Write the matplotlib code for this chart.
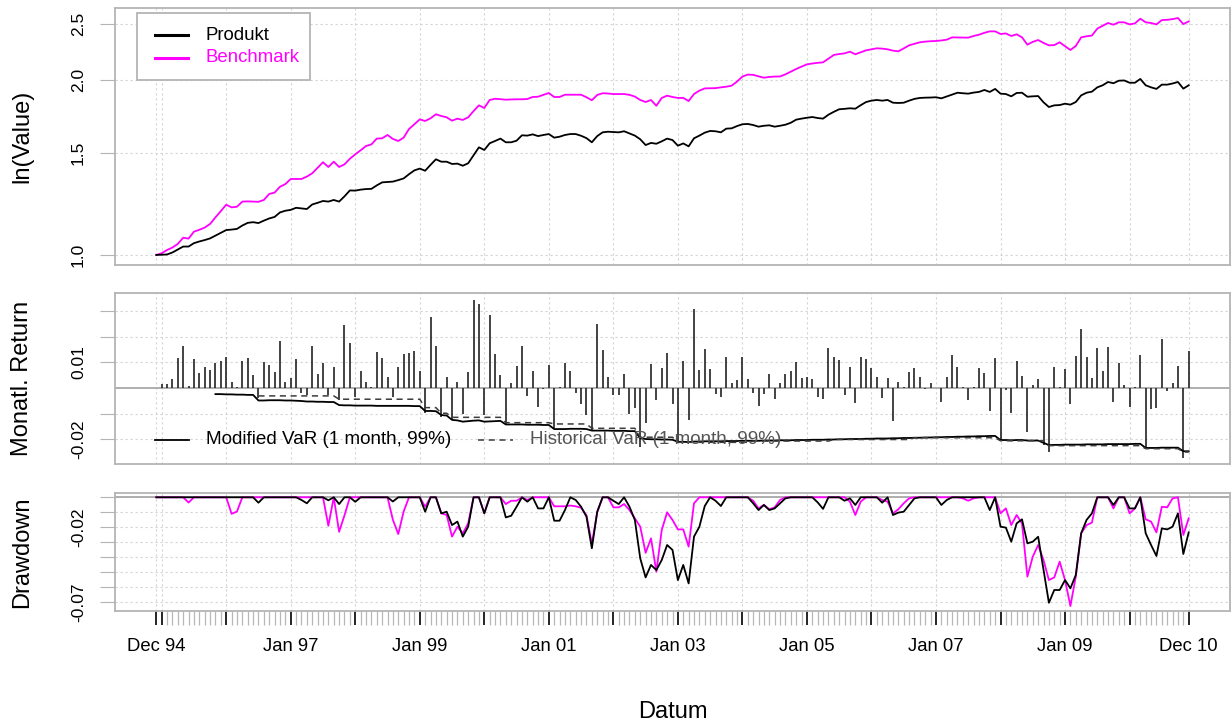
import numpy as np
import pandas as pd
import matplotlib
matplotlib.use("Agg")
import matplotlib.pyplot as plt
from matplotlib.lines import Line2D
from matplotlib.patches import Rectangle
from matplotlib.ticker import NullLocator

plt.rcParams['font.family'] = ['Liberation Sans', 'DejaVu Sans']

# Monatsdaten Dez 1994 .. Dez 2010
months = pd.date_range("1994-12-01", "2010-12-01", freq="MS")

# kumulierter Wert
produkt = [
    1.000, 1.001, 1.002, 1.010, 1.022, 1.034, 1.034, 1.048, 1.055, 1.061,
    1.068, 1.080, 1.092, 1.104, 1.106, 1.109, 1.124, 1.136, 1.139, 1.135,
    1.146, 1.156, 1.163, 1.184, 1.192, 1.196, 1.206, 1.203, 1.200, 1.222,
    1.230, 1.239, 1.236, 1.244, 1.236, 1.262, 1.292, 1.291, 1.296, 1.299,
    1.300, 1.318, 1.334, 1.336, 1.338, 1.346, 1.355, 1.378, 1.399, 1.409,
    1.397, 1.430, 1.462, 1.448, 1.448, 1.435, 1.437, 1.425, 1.439, 1.485,
    1.533, 1.517, 1.558, 1.572, 1.587, 1.564, 1.564, 1.574, 1.608, 1.606,
    1.614, 1.603, 1.610, 1.616, 1.593, 1.599, 1.610, 1.616, 1.616, 1.605,
    1.590, 1.564, 1.603, 1.627, 1.631, 1.629, 1.627, 1.634, 1.620, 1.606,
    1.583, 1.547, 1.560, 1.555, 1.570, 1.587, 1.578, 1.543, 1.557, 1.539,
    1.589, 1.606, 1.625, 1.636, 1.634, 1.627, 1.651, 1.653, 1.668, 1.680,
    1.682, 1.675, 1.664, 1.670, 1.673, 1.664, 1.670, 1.677, 1.690, 1.711,
    1.718, 1.724, 1.729, 1.722, 1.718, 1.745, 1.765, 1.783, 1.786, 1.790,
    1.787, 1.812, 1.835, 1.845, 1.850, 1.845, 1.850, 1.830, 1.828, 1.830,
    1.845, 1.858, 1.865, 1.867, 1.868, 1.870, 1.862, 1.876, 1.890, 1.904,
    1.900, 1.897, 1.905, 1.910, 1.925, 1.910, 1.933, 1.897, 1.894, 1.877,
    1.902, 1.904, 1.874, 1.877, 1.879, 1.833, 1.799, 1.811, 1.813, 1.823,
    1.816, 1.835, 1.884, 1.904, 1.912, 1.945, 1.961, 1.987, 1.977, 1.997,
    1.999, 1.981, 1.981, 2.011, 1.961, 1.945, 1.933, 1.966, 1.966, 1.975,
    1.987, 1.935, 1.961]

benchmark = [
    1.000, 1.007, 1.020, 1.030, 1.045, 1.071, 1.067, 1.097, 1.105, 1.115,
    1.131, 1.161, 1.190, 1.221, 1.208, 1.211, 1.236, 1.237, 1.236, 1.235,
    1.244, 1.274, 1.281, 1.311, 1.325, 1.352, 1.352, 1.352, 1.365, 1.383,
    1.414, 1.445, 1.418, 1.448, 1.418, 1.433, 1.465, 1.491, 1.515, 1.541,
    1.551, 1.587, 1.589, 1.610, 1.585, 1.572, 1.593, 1.649, 1.680, 1.713,
    1.702, 1.720, 1.748, 1.736, 1.727, 1.704, 1.718, 1.709, 1.727, 1.770,
    1.811, 1.792, 1.850, 1.859, 1.856, 1.852, 1.854, 1.855, 1.855, 1.857,
    1.872, 1.874, 1.888, 1.902, 1.872, 1.872, 1.889, 1.889, 1.889, 1.889,
    1.870, 1.848, 1.887, 1.900, 1.898, 1.894, 1.894, 1.894, 1.888, 1.875,
    1.850, 1.835, 1.850, 1.808, 1.865, 1.882, 1.872, 1.865, 1.865, 1.842,
    1.894, 1.920, 1.937, 1.938, 1.939, 1.945, 1.950, 1.958, 1.990, 2.030,
    2.046, 2.044, 2.032, 2.021, 2.027, 2.030, 2.031, 2.048, 2.070, 2.092,
    2.112, 2.131, 2.138, 2.144, 2.148, 2.180, 2.212, 2.220, 2.226, 2.241,
    2.218, 2.235, 2.253, 2.262, 2.271, 2.268, 2.262, 2.250, 2.244, 2.270,
    2.298, 2.312, 2.326, 2.332, 2.336, 2.338, 2.343, 2.350, 2.372, 2.371,
    2.370, 2.369, 2.385, 2.397, 2.415, 2.429, 2.429, 2.404, 2.409, 2.385,
    2.401, 2.372, 2.304, 2.330, 2.347, 2.320, 2.298, 2.300, 2.326, 2.290,
    2.256, 2.292, 2.372, 2.382, 2.389, 2.455, 2.484, 2.511, 2.494, 2.518,
    2.518, 2.497, 2.507, 2.554, 2.518, 2.511, 2.497, 2.540, 2.543, 2.550,
    2.561, 2.500, 2.527]

# monatliche Rendite Produkt
monats_return = [
    0.0, 0.0016, 0.0016, 0.0035, 0.0116, 0.0165, 0.0008, 0.0114, 0.0058, 0.0084,
    0.0071, 0.0097, 0.0107, 0.0120, 0.0025, 0.0005, 0.0105, 0.0119, 0.0050, -0.0040,
    0.0101, 0.0090, 0.0062, 0.0183, 0.0022, 0.0038, 0.0114, -0.0018, -0.0027, 0.0166,
    0.0055, 0.0098, -0.0027, 0.0081, -0.0047, 0.0246, 0.0175, -0.0037, 0.0068, 0.0025,
    0.0003, 0.0140, 0.0116, 0.0043, -0.0034, 0.0084, 0.0133, 0.0136, 0.0145, 0.0068,
    -0.0097, 0.0277, 0.0165, -0.0112, 0.0042, -0.0125, 0.0022, -0.0102, 0.0064, 0.0345,
    0.0329, -0.0105, 0.0288, 0.0133, 0.0052, -0.0145, 0.0018, 0.0086, 0.0166, -0.0030,
    0.0068, -0.0073, -0.0005, 0.0090, -0.0157, 0.0002, 0.0097, 0.0067, -0.0018, -0.0063,
    -0.0106, -0.0170, 0.0251, 0.0149, 0.0045, -0.0027, -0.0027, 0.0055, -0.0102, -0.0080,
    -0.0230, -0.0136, 0.0094, -0.0047, 0.0077, 0.0139, -0.0063, -0.0217, 0.0105, -0.0125,
    0.0311, 0.0071, 0.0152, 0.0073, -0.0025, -0.0037, 0.0123, 0.0021, 0.0033, 0.0123,
    0.0037, -0.0021, -0.0069, -0.0025, 0.0056, -0.0044, 0.0020, 0.0056, 0.0067, 0.0101,
    0.0041, 0.0045, 0.0034, -0.0034, -0.0043, 0.0158, 0.0120, 0.0110, -0.0027, 0.0084,
    -0.0058, 0.0120, 0.0112, 0.0077, 0.0045, -0.0041, 0.0041, -0.0129, 0.0024, 0.0005,
    0.0061, 0.0077, 0.0042, -0.0005, 0.0021, 0.0000, -0.0055, 0.0042, 0.0128, 0.0084,
    0.0003, -0.0047, 0.0003, 0.0080, 0.0058, -0.0089, 0.0118, -0.0204, -0.0008, -0.0097,
    0.0107, 0.0047, -0.0171, 0.0013, 0.0034, -0.0223, -0.0252, 0.0084, 0.0002, 0.0073,
    -0.0064, 0.0127, 0.0230, 0.0120, 0.0041, 0.0155, 0.0068, 0.0162, -0.0056, 0.0099,
    0.0012, -0.0073, 0.0002, 0.0130, -0.0230, -0.0082, -0.0077, 0.0194, -0.0010, 0.0018,
    0.0086, -0.0273, 0.0146]

dd_produkt = [
    0, 0, 0, 0, 0, 0, 0, 0, 0, 0,
    0, 0, 0, 0, 0, 0, 0, 0, 0, -0.0036,
    0, 0, 0, 0, 0, 0, 0, -0.0018, -0.0040, 0,
    0, 0, -0.0020, 0, -0.0045, 0, 0, -0.0030, 0, 0,
    0, 0, 0, 0, -0.0028, 0, 0, 0, 0, 0,
    -0.0096, 0, 0, -0.0107, -0.0096, -0.0185, -0.0162, -0.0262, -0.0196, 0,
    0, -0.0107, 0, 0, 0, -0.0134, -0.0123, -0.0063, 0, -0.0029,
    0, -0.0074, -0.0074, 0, -0.0156, -0.0156, -0.0085, 0, -0.0018, -0.0063,
    -0.0129, -0.0340, -0.0096, 0, 0, -0.0023, -0.0045, 0, -0.0063, -0.0151,
    -0.0407, -0.0534, -0.0451, -0.0485, -0.0418, -0.0318, -0.0351, -0.0552, -0.0451, -0.0574,
    -0.0262, -0.0196, -0.0058, 0, -0.0023, -0.0058, 0, 0, 0, 0,
    0, -0.0040, -0.0085, -0.0051, -0.0085, -0.0074, -0.0040, -0.0007, 0, 0,
    0, 0, 0, -0.0034, -0.0077, 0, 0, 0, -0.0023, -0.0007,
    -0.0051, 0, 0, 0, 0, -0.0036, 0, -0.0118, -0.0102, -0.0096,
    -0.0051, -0.0007, 0, 0, 0, 0, -0.0051, -0.0018, 0, 0,
    0, 0, 0, 0, 0, -0.0085, 0, -0.0196, -0.0202, -0.0296,
    -0.0174, -0.0147, -0.0307, -0.0296, -0.0263, -0.0485, -0.0703, -0.0618, -0.0618, -0.0552,
    -0.0607, -0.0518, -0.0240, -0.0151, -0.0107, 0, 0, 0, -0.0051, 0,
    0, -0.0074, -0.0074, 0, -0.0240, -0.0318, -0.0391, -0.0207, -0.0214, -0.0196,
    -0.0107, -0.0378, -0.0234]

dd_benchmark = [
    0, 0, 0, 0, 0, 0, -0.0035, 0, 0, 0,
    0, 0, 0, 0, -0.0110, -0.0095, 0, 0, 0, 0,
    0, 0, 0, 0, 0, 0, 0, 0, 0, 0,
    0, 0, -0.0190, 0, -0.0230, -0.0120, 0, 0, 0, 0,
    0, 0, 0, 0, -0.0150, -0.0245, -0.0095, 0, 0, 0,
    -0.0062, 0, 0, -0.0107, -0.0118, -0.0262, -0.0196, -0.0240, -0.0174, 0,
    0, -0.0105, 0, 0, 0, -0.0045, -0.0023, -0.0023, 0, -0.0018,
    0, 0, 0, 0, -0.0060, -0.0060, -0.0060, -0.0055, -0.0060, -0.0070,
    -0.0120, -0.0310, -0.0100, 0, 0, -0.0067, -0.0067, -0.0045, -0.0085, -0.0140,
    -0.0196, -0.0370, -0.0274, -0.0496, -0.0218, -0.0100, -0.0151, -0.0214, -0.0214, -0.0329,
    -0.0040, 0, 0, 0, 0, 0, 0, 0, 0, 0,
    0, -0.0023, -0.0074, -0.0051, -0.0080, -0.0067, -0.0018, 0, 0, 0,
    0, 0, 0, 0, 0, 0, 0, 0, 0, -0.0029,
    -0.0118, -0.0029, 0, 0, 0, -0.0018, -0.0029, -0.0107, -0.0080, -0.0040,
    -0.0007, 0, 0, 0, 0, 0, 0, 0, 0, 0,
    -0.0007, -0.0023, -0.0007, 0, 0, 0, 0, -0.0107, -0.0074, -0.0185,
    -0.0118, -0.0174, -0.0529, -0.0396, -0.0318, -0.0418, -0.0552, -0.0534, -0.0429, -0.0552,
    -0.0725, -0.0529, -0.0240, -0.0185, -0.0169, 0, 0, 0, -0.0074, 0,
    0, -0.0107, -0.0074, 0, -0.0147, -0.0162, -0.0234, -0.0063, -0.0067, -0.0007,
    0, -0.0251, -0.0140]

# VaR-Linien (beginnen erst nach einigen Monaten)
mvar_start = 11
modified_var = (
    [-0.0024, -0.0024, -0.0025, -0.0025, -0.0026, -0.0026, -0.0027, -0.0027]
    + [-0.0049, -0.0049, -0.0048, -0.0048, -0.0048, -0.0049, -0.0049, -0.0050, -0.0051]
    + [-0.0053, -0.0053, -0.0054, -0.0054, -0.0055, -0.0055]
    + [-0.0067, -0.0068, -0.0068, -0.0069, -0.0069, -0.0069, -0.0069, -0.0070,
       -0.0070, -0.0070, -0.0070, -0.0070, -0.0070, -0.0070, -0.0071, -0.0071]
    + [-0.0090, -0.0090, -0.0091]
    + [-0.0106, -0.0108]
    + [-0.0125, -0.0127]
    + [-0.0132, -0.0130, -0.0128, -0.0127]
    + [-0.0132, -0.0131, -0.0130, -0.0129]
    + [-0.0143, -0.0143, -0.0143, -0.0143, -0.0144, -0.0144, -0.0144, -0.0145, -0.0145]
    + [-0.0161, -0.0161, -0.0161, -0.0160, -0.0160, -0.0160, -0.0161]
    + [-0.0167, -0.0167, -0.0167, -0.0167, -0.0168, -0.0168, -0.0168, -0.0169, -0.0169]
    + [-0.0197, -0.0200, -0.0201, -0.0201, -0.0202, -0.0202, -0.0203]
    + [-0.0211, -0.0211, -0.0212, -0.0210, -0.0210, -0.0209, -0.0209, -0.0209, -0.0209, -0.0208,
       -0.0208, -0.0208, -0.0207, -0.0207, -0.0207, -0.0207, -0.0206, -0.0206, -0.0206, -0.0205,
       -0.0205, -0.0205, -0.0204, -0.0204, -0.0204, -0.0203, -0.0203, -0.0203, -0.0202, -0.0202,
       -0.0201, -0.0201, -0.0200, -0.0200, -0.0200, -0.0199, -0.0199, -0.0198, -0.0198, -0.0198,
       -0.0197, -0.0197, -0.0196, -0.0196, -0.0195, -0.0195, -0.0194, -0.0194, -0.0193, -0.0193,
       -0.0192, -0.0192, -0.0191, -0.0191, -0.0190, -0.0190, -0.0189, -0.0189, -0.0188, -0.0188]
    + [-0.0204, -0.0204, -0.0205, -0.0204, -0.0204, -0.0206, -0.0206, -0.0206]
    + [-0.0215, -0.0224]
    + [-0.0223, -0.0223, -0.0222, -0.0222, -0.0222, -0.0222, -0.0221, -0.0221, -0.0221,
       -0.0221, -0.0220, -0.0220, -0.0220, -0.0220, -0.0220, -0.0219, -0.0219]
    + [-0.0235, -0.0235, -0.0235, -0.0234, -0.0234, -0.0234, -0.0234]
    + [-0.0248, -0.0248])

hvar_start = 19
historical_var = (
    [-0.0031] * 15 + [-0.0044] * 16 + [-0.0077] * 3 + [-0.0099] * 2
    + [-0.0115] * 10 + [-0.0136] * 9 + [-0.0141] * 7 + [-0.0158] * 9
    + [-0.0193] * 7 + [-0.0213] * 14 + [-0.0208] * 15 + [-0.0202] * 15
    + [-0.0195] * 16 + [-0.0207] * 9 + [-0.0226] * 18 + [-0.0238] * 7
    + [-0.0251] * 2)

tick_labels = ["Dec 94", "Jan 97", "Jan 99", "Jan 01", "Jan 03",
               "Jan 05", "Jan 07", "Jan 09", "Dec 10"]

series_names = ["Produkt", "Benchmark"]
series_colors = ["black", "#FF00FF"]

# ---------------- Layout ----------------
W, H = 1232, 727
fig = plt.figure(figsize=(W / 100, H / 100), dpi=100)


def fx(px):
    return px / W


def fy(py):
    return 1 - py / H


def panel(left, top, right, bottom):
    return fig.add_axes([fx(left), fy(bottom), (right - left) / W, (bottom - top) / H])


x = np.arange(len(months))
lab = [m.strftime("%b %y") for m in months]
major = [0] + [i for i, m in enumerate(months) if m.month == 1] + [len(months) - 1]
major_labels = [lab[i] if lab[i] in tick_labels else "" for i in major]

box_col = "#B4B4B4"
grid_kw = dict(color="#D4D4D4", linestyle=(0, (2, 2.5)), linewidth=0.8)

ax1 = panel(115, 8, 1230, 265)
ax2 = panel(115, 293, 1230, 464)
ax3 = panel(115, 493, 1230, 611)

for ax in (ax1, ax2, ax3):
    ax.set_xlim(-7.68, len(months) - 1 + 7.68)
    ax.set_xticks(major)
    for s in ax.spines.values():
        s.set_color(box_col)
        s.set_linewidth(1.3)
    ax.grid(True, **grid_kw)
    ax.set_axisbelow(True)
    ax.tick_params(axis="y", length=10.8, width=0.8, color=box_col,
                   labelsize=12.5, pad=10.0, labelrotation=90)

for ax in (ax1, ax2):
    ax.tick_params(axis="x", length=0, labelbottom=False)

# --- oben: kumulierte Werte (log) ---
ax1.set_yscale("log")
ax1.plot(x, benchmark, color=series_colors[1], lw=1.3)
ax1.plot(x, produkt, color=series_colors[0], lw=1.3)
ax1.set_ylim(0.961, 2.665)
ax1.set_yticks([1.0, 1.5, 2.0, 2.5], ["1.0", "1.5", "2.0", "2.5"])
ax1.yaxis.set_minor_locator(NullLocator())

# Legende oben
fig.add_artist(Rectangle((fx(137), fy(80)), fx(310) - fx(137), fy(13) - fy(80),
                         transform=fig.transFigure, facecolor="white",
                         edgecolor=box_col, linewidth=1.3))
for k, yy in enumerate([35, 58]):
    fig.add_artist(Line2D([fx(155), fx(188)], [fy(yy), fy(yy)], color=series_colors[k],
                          lw=2.2, transform=fig.transFigure))
    fig.text(fx(206), fy(yy), series_names[k], color=series_colors[k],
             fontsize=13.4, va="center", ha="left")

# --- Mitte: Monatsrenditen + VaR ---
ax2.axhline(0, color="#A8A8A8", lw=1.3, zorder=1.5)
ax2.vlines(x, 0, monats_return, color="#222222", lw=1.2, zorder=2)
ax2.plot(np.arange(mvar_start, mvar_start + len(modified_var)), modified_var,
         color="black", lw=1.3, zorder=3)
ax2.plot(np.arange(hvar_start, hvar_start + len(historical_var)), historical_var,
         color="#3C3C3C", lw=1.1, linestyle=(0, (4, 3)), zorder=3)
ax2.set_ylim(-0.0298, 0.03725)
ax2.set_yticks([-0.02, -0.01, 0.01, 0.02, 0.03], ["-0.02", "", "0.01", "", ""])

leg_y = 440
fig.add_artist(Line2D([fx(155), fx(189)], [fy(leg_y), fy(leg_y)], color="black",
                      lw=1.3, transform=fig.transFigure))
fig.text(fx(206), fy(leg_y), "Modified VaR (1 month, 99%)", color="black",
         fontsize=13.6, va="center", ha="left", zorder=0.5)
fig.add_artist(Line2D([fx(478), fx(513)], [fy(leg_y), fy(leg_y)], color="#3C3C3C",
                      lw=1.1, linestyle=(0, (4, 3)), transform=fig.transFigure))
fig.text(fx(530), fy(leg_y), "Historical VaR (1 month, 99%)", color="#555555",
         fontsize=13.6, va="center", ha="left", zorder=0.5)

# --- unten: Drawdown ---
ax3.axhline(0, color="#A8A8A8", lw=1.3, zorder=1.5)
ax3.plot(x, dd_benchmark, color=series_colors[1], lw=1.3)
ax3.plot(x, dd_produkt, color=series_colors[0], lw=1.3)
ax3.set_ylim(-0.0758, 0.00287)
ax3.set_yticks([0, -0.01, -0.02, -0.03, -0.04, -0.05, -0.06, -0.07],
               ["", "", "-0.02", "", "", "", "", "-0.07"])

ax3.set_xticks(x, minor=True)
ax3.set_xticklabels(major_labels)
ax3.tick_params(axis="x", which="major", length=10, width=1.2, color="black",
                labelsize=13.3, pad=9.7)
ax3.tick_params(axis="x", which="minor", length=10, width=0.9, color="#B8B8B8")

for ax in (ax1, ax2, ax3):
    for t in ax.get_yticklabels():
        t.set_va("center")

# Achsentitel
fig.text(fx(22), fy(136), "ln(Value)", rotation=90, fontsize=17, ha="center", va="center")
fig.text(fx(22), fy(378), "Monatl. Return", rotation=90, fontsize=17, ha="center", va="center")
fig.text(fx(22), fy(552), "Drawdown", rotation=90, fontsize=17, ha="center", va="center")
fig.text(fx(673), fy(712), "Datum", fontsize=17, ha="center", va="center")

fig.savefig("out.png", dpi=100)
